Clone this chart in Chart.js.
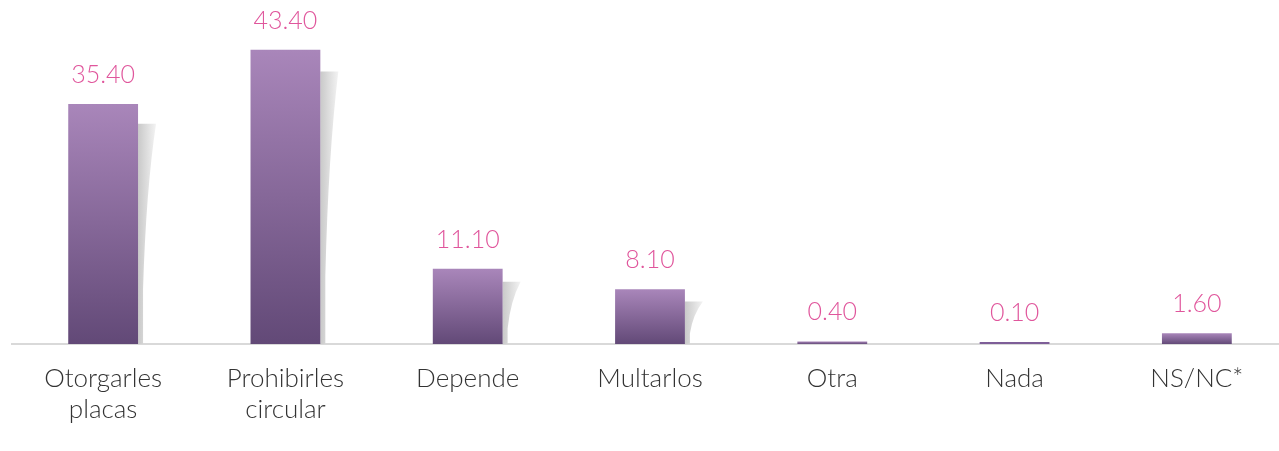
<!DOCTYPE html>
<html>
<head>
<meta charset="utf-8">
<script src="https://cdn.jsdelivr.net/npm/chart.js@4.4.0/dist/chart.umd.min.js"></script>
<style>
  html, body { margin: 0; padding: 0; background: #fff; overflow: hidden; }
  #wrap { width: 1288px; height: 451px; position: relative; }
</style>
</head>
<body>
<div id="wrap"><canvas id="grafica"></canvas></div>
<script>
const categorias = [["Otorgarles", "placas"], ["Prohibirles", "circular"], "Depende", "Multarlos", "Otra", "Nada", "NS/NC*"];
const valores = [35.4, 43.4, 11.1, 8.1, 0.4, 0.1, 1.6];
const etiquetas = ["35.40", "43.40", "11.10", "8.10", "0.40", "0.10", "1.60"];

const fuente = "Lato, 'Open Sans', sans-serif";

// sombra gris a la derecha de cada barra
const sombras = {
  id: "sombras",
  beforeDatasetsDraw(chart) {
    const ctx = chart.ctx;
    chart.getDatasetMeta(0).data.forEach(bar => {
      const p = bar.getProps(["x", "y", "base", "width"], true);
      const h = p.base - p.y;
      if (!isFinite(h) || h < 20) return;
      const right = p.x + p.width / 2;
      const top = p.y + 10 + h * 0.04;
      const g = ctx.createLinearGradient(right, 0, right + 18, 0);
      g.addColorStop(0, "#c9c9c9");
      g.addColorStop(1, "#f3f3f3");
      ctx.save();
      ctx.fillStyle = g;
      ctx.beginPath();
      ctx.moveTo(right, top);
      ctx.lineTo(right + 18, top);
      ctx.quadraticCurveTo(right + 8, top + (p.base - top) * 0.3, right + 5, top + (p.base - top) * 0.75);
      ctx.lineTo(right + 5, p.base);
      ctx.lineTo(right, p.base);
      ctx.closePath();
      ctx.fill();
      ctx.restore();
    });
  }
};

const valoresTexto = {
  id: "valoresTexto",
  afterDatasetsDraw(chart) {
    const ctx = chart.ctx;
    ctx.save();
    ctx.font = "300 25px " + fuente;
    ctx.fillStyle = "#e0569c";
    ctx.textAlign = "center";
    ctx.textBaseline = "alphabetic";
    chart.getDatasetMeta(0).data.forEach((bar, i) => {
      ctx.fillText(etiquetas[i], bar.x, bar.y - 21);
    });
    ctx.restore();
  }
};

new Chart(document.getElementById("grafica"), {
  type: "bar",
  data: {
    labels: categorias,
    datasets: [{
      data: valores,
      backgroundColor: function(context) {
        const chart = context.chart;
        const ys = chart.scales.y;
        if (!ys || !context.parsed) return "#8a6aa0";
        const top = ys.getPixelForValue(context.parsed.y);
        const base = ys.getPixelForValue(0);
        if (!isFinite(top) || !isFinite(base)) return "#8a6aa0";
        if (base - top < 1) return "#7e5e98";
        const g = chart.ctx.createLinearGradient(0, top, 0, base);
        g.addColorStop(0, "#a986ba");
        g.addColorStop(1, "#624977");
        return g;
      },
      borderWidth: 0,
      minBarLength: 2,
      categoryPercentage: 1,
      barPercentage: 0.383
    }]
  },
  options: {
    responsive: true,
    maintainAspectRatio: false,
    animation: false,
    layout: { padding: { top: 5, left: 12, right: 0, bottom: 7 } },
    plugins: {
      legend: { display: false },
      tooltip: { enabled: false }
    },
    scales: {
      y: {
        display: false,
        min: 0,
        max: 50
      },
      x: {
        grid: { display: false, drawTicks: false },
        border: { color: "#d9d9d9", width: 2 },
        ticks: {
          color: "#333333",
          padding: 19,
          maxRotation: 0,
          autoSkip: false,
          font: { family: fuente, size: 26, weight: "300", lineHeight: 1.19 }
        }
      }
    }
  },
  plugins: [sombras, valoresTexto]
});
</script>
</body>
</html>
